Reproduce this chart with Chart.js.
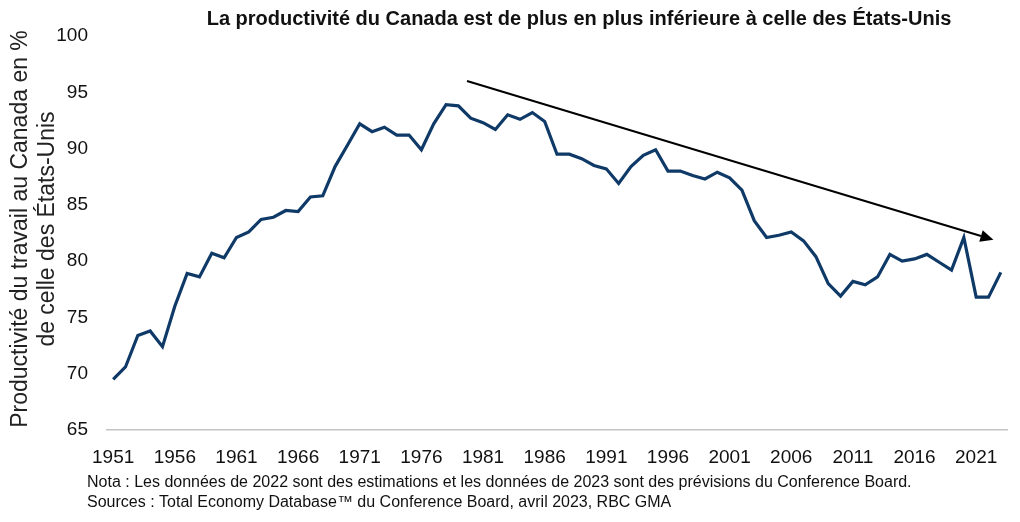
<!DOCTYPE html>
<html lang="fr">
<head>
<meta charset="utf-8">
<script src="https://cdn.jsdelivr.net/npm/chart.js@4.4.0/dist/chart.umd.min.js"></script>
<style>
  html, body { margin: 0; padding: 0; background: #fff; }
  #wrap { width: 1020px; height: 522px; }
</style>
</head>
<body>
<div id="wrap"><canvas id="prodChart" width="1020" height="522"></canvas></div>
<script>
// Données
const years = [];
for (let y = 1951; y <= 2023; y++) years.push(String(y));

const productivite = [
  69.5, 70.6, 73.4, 73.8, 72.4, 76.0, 78.9, 78.6, 80.7, 80.3,
  82.1, 82.6, 83.7, 83.9, 84.5, 84.4, 85.7, 85.8, 88.4, 90.3,
  92.2, 91.5, 91.9, 91.2, 91.2, 89.9, 92.2, 93.9, 93.8, 92.7,
  92.3, 91.7, 93.0, 92.6, 93.2, 92.4, 89.5, 89.5, 89.1, 88.5,
  88.2, 86.9, 88.4, 89.4, 89.9, 88.0, 88.0, 87.6, 87.3, 87.9,
  87.4, 86.3, 83.6, 82.1, 82.3, 82.6, 81.8, 80.4, 78.0, 76.9,
  78.2, 77.9, 78.6, 80.6, 80.0, 80.2, 80.6, 79.9, 79.2, 82.1,
  76.8, 76.8, 79.0
];

const yTicks = [65, 70, 75, 80, 85, 90, 95, 100];

// Flèche de tendance (année, valeur)
const arrowFrom = [1979.7, 96.0];
const arrowTo = [2022.4, 81.9];

const titre = 'La productivité du Canada est de plus en plus inférieure à celle des États-Unis';
const titreAxeY = ['Productivité du travail au Canada en %', 'de celle des États-Unis'];
const notes = [
  'Nota : Les données de 2022 sont des estimations et les données de 2023 sont des prévisions du Conference Board.',
  'Sources : Total Economy Database\u2122 du Conference Board, avril 2023, RBC GMA'
];

const FONT = '"Liberation Sans", Arial, sans-serif';

// Textes et flèche
const decorPlugin = {
  id: 'decor',
  afterDatasetsDraw(chart) {
    const ctx = chart.ctx;
    const xs = chart.scales.x, ys = chart.scales.y;
    const base = Number(years[0]);

    // flèche
    const x1 = xs.getPixelForValue(arrowFrom[0] - base), y1 = ys.getPixelForValue(arrowFrom[1]);
    const x2 = xs.getPixelForValue(arrowTo[0] - base), y2 = ys.getPixelForValue(arrowTo[1]);
    const ang = Math.atan2(y2 - y1, x2 - x1);
    const head = 13, half = 6;
    ctx.save();
    ctx.strokeStyle = '#000';
    ctx.fillStyle = '#000';
    ctx.lineWidth = 2;
    ctx.beginPath();
    ctx.moveTo(x1, y1);
    ctx.lineTo(x2 - head * Math.cos(ang), y2 - head * Math.sin(ang));
    ctx.stroke();
    ctx.beginPath();
    ctx.moveTo(x2, y2);
    ctx.lineTo(x2 - head * Math.cos(ang) + half * Math.sin(ang), y2 - head * Math.sin(ang) - half * Math.cos(ang));
    ctx.lineTo(x2 - head * Math.cos(ang) - half * Math.sin(ang), y2 - head * Math.sin(ang) + half * Math.cos(ang));
    ctx.closePath();
    ctx.fill();
    ctx.restore();
  },
  afterDraw(chart) {
    const ctx = chart.ctx;
    ctx.save();
    ctx.fillStyle = '#111';
    ctx.textBaseline = 'middle';

    // titre
    ctx.font = 'bold 20px ' + FONT;
    ctx.textAlign = 'center';
    ctx.fillText(titre, 579, 19);

    // titre de l'axe Y
    ctx.font = '23px ' + FONT;
    ctx.fillStyle = '#222';
    ctx.translate(0, 229);
    ctx.rotate(-Math.PI / 2);
    ctx.fillText(titreAxeY[0], 0, 21);
    ctx.fillText(titreAxeY[1], 0, 48);
    ctx.restore();

    // notes
    ctx.save();
    ctx.fillStyle = '#111';
    ctx.font = '16px ' + FONT;
    ctx.textAlign = 'left';
    ctx.textBaseline = 'middle';
    ctx.fillText(notes[0], 87, 483);
    ctx.fillText(notes[1], 87, 503);
    ctx.restore();
  }
};

new Chart(document.getElementById('prodChart'), {
  type: 'line',
  data: {
    labels: years,
    datasets: [{
      data: productivite,
      borderColor: '#0f3a68',
      borderWidth: 3.2,
      pointRadius: 0,
      tension: 0,
      fill: false
    }]
  },
  options: {
    responsive: false,
    animation: false,
    layout: { padding: { top: 36, right: 13, bottom: 52, left: 0 } },
    plugins: {
      legend: { display: false },
      title: { display: false },
      tooltip: { enabled: false }
    },
    scales: {
      x: {
        type: 'category',
        offset: true,
        grid: { display: false },
        border: { display: true, color: '#c4c4c4', width: 1.5 },
        ticks: {
          autoSkip: false,
          maxRotation: 0,
          padding: 8,
          color: '#111',
          font: { family: FONT, size: 19 },
          callback(value, index) {
            return index % 5 === 0 ? years[index] : '';
          }
        },
        afterFit(scale) { scale.height = 40; }
      },
      y: {
        min: 65,
        max: 100,
        grid: { display: false },
        border: { display: false },
        afterBuildTicks(scale) { scale.ticks = yTicks.map(v => ({ value: v })); },
        ticks: {
          padding: 11,
          color: '#111',
          font: { family: FONT, size: 19 }
        },
        afterFit(scale) { scale.width = 107; }
      }
    }
  },
  plugins: [decorPlugin]
});
</script>
</body>
</html>
